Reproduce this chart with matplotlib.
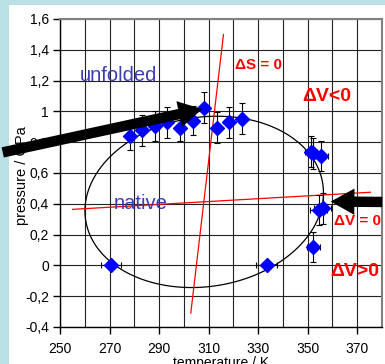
import numpy as np
import matplotlib
matplotlib.use("Agg")
import matplotlib.pyplot as plt
from matplotlib.patches import Rectangle, FancyArrowPatch

plt.rcParams['font.family'] = ['Liberation Sans', 'DejaVu Sans']

# ---- data ----
temp = [270.6, 278.3, 283.3, 288.4, 293.4, 298.4, 303.6, 308.2, 313.4, 318.4,
        323.3, 351.3, 352.3, 355.5, 354.4, 356.0, 352.2, 333.5]
pres = [0.00, 0.84, 0.877, 0.905, 0.93, 0.89, 0.94, 1.024, 0.894, 0.93,
        0.953, 0.738, 0.728, 0.71, 0.36, 0.37, 0.12, 0.00]
temp_err = [4.0, 0, 0, 0, 0, 0, 0, 0, 0, 0, 0, 2.5, 2.5, 2.7, 3.5, 3.5, 2.6, 4.3]
pres_err = [0, 0.09, 0.10, 0.10, 0.10, 0.08, 0.095, 0.10, 0.10, 0.10,
            0.10, 0.10, 0.10, 0.10, 0.10, 0.10, 0.10, 0]

# points traced along the elliptic stability boundary
curve_T = [298.4, 312.0, 317.3, 325.4, 330.8, 340.2, 349.7, 356.4, 357.1, 354.4,
           349.7, 333.5, 298.8, 295.8, 282.3, 270.6, 262.1, 260.1, 262.1, 270.2, 278.3]
curve_P = [0.977, 0.977, 0.977, 0.933, 0.90, 0.857, 0.75, 0.576, 0.49, 0.34,
           0.186, -0.03, -0.139, -0.134, -0.084, 0.014, 0.186, 0.38, 0.554, 0.684, 0.77]

dS0_T = [302.8, 316.0]
dS0_P = [-0.31, 1.50]
dV0_T = [255.1, 375.3]
dV0_P = [0.364, 0.475]

xticks = [250, 270, 290, 310, 330, 350, 370]
yticks = [-0.4, -0.2, 0, 0.2, 0.4, 0.6, 0.8, 1.0, 1.2, 1.4, 1.6]
ytick_labels = ["-0,4", "-0,2", "0", "0,2", "0,4", "0,6", "0,8", "1", "1,2", "1,4", "1,6"]

# ---- figure ----
W, H = 385, 364
fig = plt.figure(figsize=(W / 100, H / 100), dpi=100)
fig.patch.set_facecolor('#b9e0e4')
fig.add_artist(Rectangle((9 / W, 0), 1 - 9 / W, 1 - 5 / H, transform=fig.transFigure,
                         facecolor='white', edgecolor='none', zorder=0))

ax = fig.add_axes([60 / W, 1 - 327 / H, (382 - 60) / W, (327 - 19) / H])
ax.set_facecolor('white')
ax.set_xlim(250, 380)
ax.set_ylim(-0.4, 1.6)

ax.set_xticks(xticks)
ax.set_xticks([260, 280, 300, 320, 340, 360, 380], minor=True)
ax.set_yticks(yticks)
ax.set_yticklabels(ytick_labels)
ax.tick_params(axis='both', which='major', direction='out', length=5, width=1,
               labelsize=10, colors='black')
ax.tick_params(axis='x', which='major', pad=6)
ax.tick_params(axis='y', which='major', pad=3)
ax.tick_params(axis='x', which='minor', length=0)
ax.grid(True, which='both', color='#222222', linewidth=0.8)
ax.set_axisbelow(True)
for s in ['top', 'right']:
    ax.spines[s].set_color('#808080')
    ax.spines[s].set_linewidth(1.5)
for s in ['left', 'bottom']:
    ax.spines[s].set_color('black')
    ax.spines[s].set_linewidth(1.0)

ax.set_xlabel('temperature / K', fontsize=10, labelpad=0)
ax.set_ylabel('pressure / GPa', fontsize=10.5)
ax.yaxis.set_label_coords(-0.096, 0.49)

# ---- elliptic boundary: conic fitted to traced points ----
cx = (np.array(curve_T) - 310) / 50
cy = (np.array(curve_P) - 0.4) / 0.6
M = np.column_stack([cx**2, cx * cy, cy**2, cx, cy, np.ones_like(cx)])
coef = np.linalg.svd(M)[2][-1]
TT, PP = np.meshgrid(np.linspace(250, 380, 600), np.linspace(-0.4, 1.6, 600))
X = (TT - 310) / 50
Y = (PP - 0.4) / 0.6
Z = (coef[0] * X**2 + coef[1] * X * Y + coef[2] * Y**2 + coef[3] * X
     + coef[4] * Y + coef[5])
ax.contour(TT, PP, Z, levels=[0], colors='black', linewidths=0.9, zorder=3)

# ---- red lines ----
ax.plot(dS0_T, dS0_P, color='red', lw=0.9, zorder=3)
ax.plot(dV0_T, dV0_P, color='red', lw=0.9, zorder=3)

# ---- data points ----
ax.errorbar(temp, pres, xerr=temp_err, yerr=pres_err, fmt='D', color='#0000ff',
            ms=7, mec='#0000ff', ecolor='black', elinewidth=0.8, capsize=2.5,
            capthick=0.8, zorder=4)

# ---- texts ----
ax.text(273.6, 1.23, 'unfolded', color='#3c3cb4', fontsize=14.5, ha='center', va='center', zorder=5)
ax.text(282.6, 0.40, 'native', color='#3c3cb4', fontsize=14.5, ha='center', va='center', zorder=5)
ax.text(330, 1.30, 'ΔS = 0', color='red', fontsize=11, fontweight='bold', ha='center', va='center', zorder=5)
ax.text(357.5, 1.094, 'ΔV<0', color='red', fontsize=14, fontweight='bold', ha='center', va='center', zorder=5)
ax.text(370, 0.29, 'ΔV = 0', color='red', fontsize=11, fontweight='bold', ha='center', va='center', zorder=5)
ax.text(368.8, -0.04, 'ΔV>0', color='red', fontsize=14, fontweight='bold', ha='center', va='center', zorder=5)

# ---- black arrows (figure pixel coordinates) ----
def fig_px(x, y):
    return (x / W, 1 - y / H)

style = "simple, head_length=17, head_width=19, tail_width=7.5"
a1 = FancyArrowPatch(fig_px(0, 153), fig_px(205, 108.5), transform=fig.transFigure,
                     arrowstyle=style, mutation_scale=1, color='black', lw=0, zorder=10)
a2 = FancyArrowPatch(fig_px(385, 202), fig_px(328, 201.5), transform=fig.transFigure,
                     arrowstyle=style, mutation_scale=1, color='black', lw=0, zorder=10)
fig.add_artist(a1)
fig.add_artist(a2)

fig.savefig('out.png', dpi=100, facecolor=fig.get_facecolor())
